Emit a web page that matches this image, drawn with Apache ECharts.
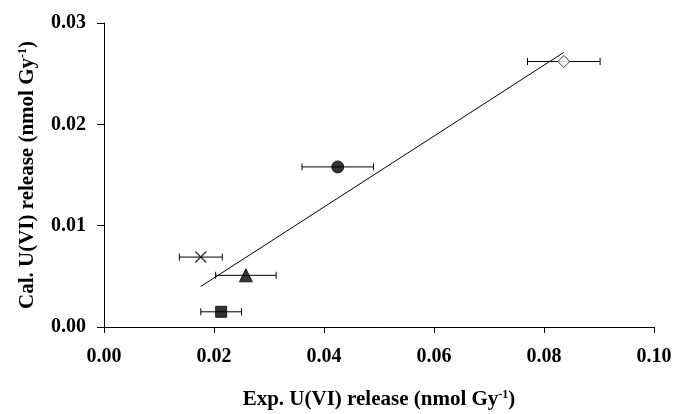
<!DOCTYPE html>
<html>
<head>
<meta charset="utf-8">
<script src="https://cdn.jsdelivr.net/npm/echarts@6/dist/echarts.min.js"></script>
<style>html,body{margin:0;padding:0;background:#fff;}#c{width:680px;height:414px;}</style>
</head>
<body>
<div id="c"></div>
<script>
// Data
const expX  = [0.0213, 0.0258, 0.0176, 0.0425, 0.0836];   // Exp. U(VI) release
const calY  = [0.0015, 0.0051, 0.0069, 0.0158, 0.0262];   // Cal. U(VI) release
const xErr  = [0.0037, 0.0055, 0.0039, 0.0065, 0.0066];   // horizontal error
const markerKinds = ['square', 'triangle', 'cross', 'circle', 'diamond'];
const fitX = [0.0176, 0.0836];
const fitY = [0.0040, 0.0271];
const xTicks = [0, 0.02, 0.04, 0.06, 0.08, 0.10];
const yTicks = [0, 0.01, 0.02, 0.03];

const symbolMap = {
  square:   {symbol: 'rect', size: 11, fill: '#000'},
  triangle: {symbol: 'triangle', size: 13, fill: '#000'},
  cross:    {symbol: 'path://M0,0L10,10M10,0L0,10', size: 11, fill: 'none'},
  circle:   {symbol: 'circle', size: 12, fill: '#000'},
  diamond:  {symbol: 'diamond', size: 12, fill: '#fff'}
};

const chart = echarts.init(document.getElementById('c'), null, {renderer: 'canvas'});
const font = '"Liberation Serif", "DejaVu Serif", serif';

const errData = expX.map((x, i) => [x - xErr[i], x + xErr[i], calY[i]]);

const scatterSeries = expX.map((x, i) => {
  const m = symbolMap[markerKinds[i]];
  return {
    type: 'scatter',
    data: [[x, calY[i]]],
    symbol: m.symbol,
    symbolSize: m.size,
    z: 5,
    itemStyle: {color: m.fill, borderColor: '#000', borderWidth: markerKinds[i] === 'cross' ? 1.3 : 1},
    silent: true
  };
});

const nameStyle = {
  fontFamily: font, fontWeight: 'bold', fontSize: 21, color: '#000',
  rich: {sup: {fontFamily: font, fontWeight: 'bold', fontSize: 12, color: '#000', verticalAlign: 'top', padding: [0, 0, 9, 0]}}
};

chart.setOption({
  animation: false,
  backgroundColor: '#fff',
  grid: {left: 104, right: 26, top: 23, bottom: 87, containLabel: false, outerBoundsMode: 'none'},
  xAxis: {
    type: 'value', min: 0, max: 0.10, interval: 0.02,
    name: 'Exp. U(VI) release (nmol Gy{sup|-1})',
    nameLocation: 'middle', nameGap: 62,
    nameTextStyle: nameStyle,
    axisLine: {show: true, lineStyle: {color: '#000', width: 1}},
    axisTick: {show: true, length: 6, inside: false, lineStyle: {color: '#000'}},
    splitLine: {show: false},
    axisLabel: {fontFamily: font, fontWeight: 'bold', fontSize: 20, color: '#000', margin: 20,
      formatter: v => v.toFixed(2)}
  },
  yAxis: {
    type: 'value', min: 0, max: 0.03, interval: 0.01,
    name: 'Cal. U(VI) release (nmol Gy{sup|-1})',
    nameLocation: 'middle', nameGap: 66, nameRotate: 90,
    nameTextStyle: nameStyle,
    axisLine: {show: true, lineStyle: {color: '#000', width: 1}},
    axisTick: {show: true, length: 7, inside: false, lineStyle: {color: '#000'}},
    splitLine: {show: false},
    axisLabel: {fontFamily: font, fontWeight: 'bold', fontSize: 20, color: '#000', margin: 18,
      formatter: v => v.toFixed(2)}
  },
  series: [
    {
      type: 'line',
      data: fitX.map((x, i) => [x, fitY[i]]),
      symbol: 'none',
      lineStyle: {color: '#000', width: 1},
      z: 3,
      silent: true
    },
    {
      type: 'custom',
      data: errData,
      z: 4,
      silent: true,
      renderItem: function (params, api) {
        const p1 = api.coord([api.value(0), api.value(2)]);
        const p2 = api.coord([api.value(1), api.value(2)]);
        const h = 3.5;
        const st = {stroke: '#000', lineWidth: 1};
        return {
          type: 'group',
          children: [
            {type: 'line', shape: {x1: p1[0], y1: p1[1], x2: p2[0], y2: p2[1]}, style: st},
            {type: 'line', shape: {x1: p1[0], y1: p1[1] - h, x2: p1[0], y2: p1[1] + h}, style: st},
            {type: 'line', shape: {x1: p2[0], y1: p2[1] - h, x2: p2[0], y2: p2[1] + h}, style: st}
          ]
        };
      }
    }
  ].concat(scatterSeries)
});
</script>
</body>
</html>
